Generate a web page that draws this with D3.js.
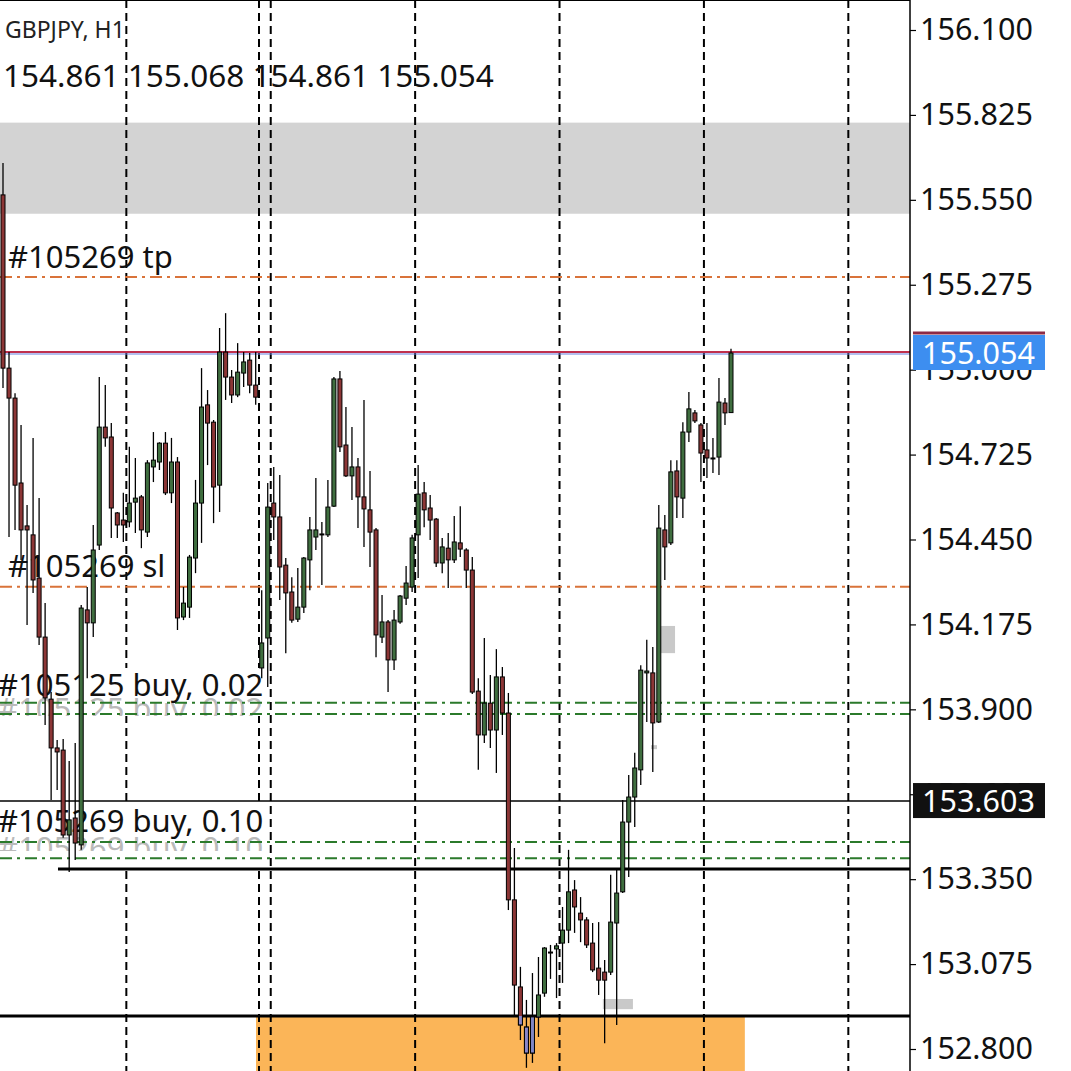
<!DOCTYPE html>
<html>
<head>
<meta charset="utf-8">
<script src="https://cdn.jsdelivr.net/npm/d3@7"></script>
<style>
  body { margin: 0; background: #fff; }
  svg { display: block; }
  text { font-family: "Noto Sans", sans-serif; }
</style>
</head>
<body>
<div id="chart"></div>
<script>
/* ---------- data (GBPJPY H1) ---------- */
const opens = [155.566,155.005,154.908,154.633,154.494,154.465,154.325,154.134,153.933,153.775,
  153.768,153.493,153.548,153.461,154.222,154.180,154.432,154.814,154.782,154.536,
  154.513,154.507,154.571,154.588,154.474,154.685,154.701,154.762,154.601,154.701,
  154.199,154.231,154.390,154.568,154.886,154.830,154.626,155.057,154.976,154.918,
  154.989,155.031,154.950,154.034,154.131,154.568,154.523,154.367,154.280,154.192,
  154.231,154.384,154.458,154.468,154.465,154.558,154.970,154.756,154.656,154.685,
  154.588,154.546,154.481,154.134,154.183,154.060,154.183,154.260,154.296,154.465,
  154.601,154.552,154.516,154.374,154.422,154.384,154.439,154.416,154.351,153.959,
  153.817,153.920,153.833,154.005,153.888,153.283,153.001,152.871,152.787,152.904,
  152.981,153.111,153.124,153.143,153.185,153.315,153.240,153.218,153.143,153.062,
  153.049,153.049,153.208,153.309,153.535,153.616,153.704,154.018,154.018,153.859,
  154.481,154.439,154.672,154.584,154.798,154.860,154.821,154.740,154.714,154.717,
  154.892,154.861];
const highs = [155.669,155.057,154.924,154.821,154.562,154.779,154.584,154.244,153.956,153.801,
  153.804,153.733,153.791,154.238,154.296,154.497,154.976,154.950,154.827,154.539,
  154.601,154.750,154.714,154.594,154.707,154.798,154.765,154.798,154.779,154.717,
  154.296,154.400,154.643,155.005,154.934,154.837,155.135,155.183,154.999,155.086,
  155.057,155.054,155.057,154.286,154.633,154.685,154.659,154.390,154.328,154.358,
  154.393,154.523,154.649,154.507,154.643,154.976,154.996,154.879,154.814,154.714,
  154.902,154.672,154.487,154.270,154.189,154.222,154.270,154.364,154.465,154.691,
  154.636,154.594,154.520,154.455,154.471,154.526,154.558,154.422,154.393,154.001,
  154.131,154.011,154.095,154.037,153.953,153.451,153.066,152.959,153.046,153.098,
  153.130,153.137,153.143,153.260,153.445,153.347,153.292,153.227,153.208,153.211,
  153.088,153.364,153.380,153.606,153.687,153.759,154.043,154.125,154.102,154.562,
  154.529,154.707,154.707,154.830,154.928,154.869,154.827,154.827,154.779,154.973,
  154.908,155.068];
const lows = [154.941,154.458,154.481,154.384,154.173,154.277,154.108,153.849,153.606,153.639,
  153.484,153.373,153.412,153.445,154.001,154.134,154.416,154.750,154.455,154.455,
  154.442,154.490,154.471,154.422,154.458,154.636,154.675,154.594,154.568,154.157,
  154.189,154.196,154.341,154.439,154.691,154.503,154.539,154.902,154.892,154.911,
  154.944,154.924,154.886,154.001,153.972,154.448,154.254,154.082,154.180,154.183,
  154.212,154.286,154.416,154.303,154.458,154.555,154.733,154.652,154.578,154.487,
  154.426,154.361,154.069,154.115,153.956,154.027,154.177,154.238,154.280,154.325,
  154.490,154.448,154.361,154.341,154.293,154.374,154.393,154.293,153.950,153.704,
  153.791,153.775,153.694,153.817,153.250,152.904,152.829,152.739,152.755,152.839,
  152.969,153.027,152.965,153.014,153.143,153.176,153.146,153.127,153.049,152.975,
  152.819,153.040,152.878,153.305,153.357,153.519,153.655,153.859,153.697,153.856,
  154.319,154.432,154.520,154.520,154.766,154.827,154.636,154.649,154.665,154.659,
  154.821,154.861];
const closes = [155.005,154.908,154.626,154.481,154.481,154.319,154.134,153.937,153.775,153.762,
  153.493,153.542,153.467,154.228,154.180,154.416,154.814,154.779,154.552,154.497,
  154.497,154.568,154.584,154.481,154.698,154.707,154.762,154.601,154.701,154.196,
  154.244,154.393,154.568,154.879,154.827,154.620,155.057,154.976,154.918,154.992,
  155.025,154.950,154.911,154.115,154.555,154.523,154.361,154.277,154.189,154.231,
  154.390,154.481,154.481,154.465,154.555,154.970,154.750,154.656,154.685,154.588,
  154.549,154.474,154.141,154.183,154.060,154.189,154.267,154.309,154.455,154.597,
  154.546,154.513,154.374,154.426,154.384,154.442,154.419,154.351,153.956,153.817,
  153.920,153.833,154.005,153.888,153.283,153.007,152.878,152.787,152.904,152.975,
  153.127,153.114,153.134,153.185,153.309,153.260,153.218,153.137,153.056,153.023,
  153.023,153.211,153.305,153.535,153.616,153.710,154.027,154.024,153.856,154.487,
  154.426,154.669,154.588,154.798,154.873,154.834,154.730,154.714,154.712,154.895,
  154.860,155.054];

const tickValues = [152.8, 153.075, 153.35, 153.625, 153.9, 154.175, 154.45, 154.725, 155.0, 155.275, 155.55, 155.825, 156.1];

// day separators (bar index) and one extra vertical line
const separators = [20.5, 44.5, 68.5, 92.5, 116.5, 140.5, 42.55];

// price levels of the objects on the chart
const lastPrice = 155.054;
const markPrice = 153.603;
const tpLevel = 155.300;
const slLevel = 154.297;
const buy1Levels = [153.921, 153.885];
const buy2Levels = [153.470, 153.418];
const supportLevel = 153.383;
const floorLevel = 152.907;
const greyZone = [155.505, 155.800];
const orangeZone = {from: 42.05, to: 123.3, top: 152.907};
const smallBoxes = [
  {x0: 108.9, x1: 111.7, p0: 154.082, p1: 154.170},
  {x0: 99.7, x1: 104.7, p0: 152.929, p1: 152.962},
  {x0: 107.7, x1: 108.7, p0: 153.771, p1: 153.784}
];

/* ---------- layout ---------- */
const W = 1071, H = 1071;
const plotRight = 910;

const candles = opens.map((o, i) => ({i, o, h: highs[i], l: lows[i], c: closes[i]}));

const x = d3.scaleLinear().domain([0, 121]).range([3, 731]);
const y = d3.scaleLinear().domain([152.8, 156.1]).range([1049, 30]);

const svg = d3.select('#chart').append('svg')
  .attr('width', W).attr('height', H);

svg.append('rect').attr('width', W).attr('height', H).attr('fill', '#fff');

const defs = svg.append('defs');
defs.append('clipPath').attr('id', 'plot')
  .append('rect').attr('x', 0).attr('y', 0).attr('width', plotRight).attr('height', H);
defs.append('clipPath').attr('id', 'orange')
  .append('rect').attr('x', x(orangeZone.from)).attr('y', y(orangeZone.top))
  .attr('width', x(orangeZone.to) - x(orangeZone.from)).attr('height', H);
defs.append('clipPath').attr('id', 'ghost1')
  .append('rect').attr('x', 0).attr('y', 698).attr('width', 270).attr('height', 18);
defs.append('clipPath').attr('id', 'ghost2')
  .append('rect').attr('x', 0).attr('y', 837).attr('width', 270).attr('height', 14);

const plot = svg.append('g').attr('clip-path', 'url(#plot)');

// zones
plot.append('rect')
  .attr('x', 0).attr('width', plotRight)
  .attr('y', y(greyZone[1])).attr('height', y(greyZone[0]) - y(greyZone[1]))
  .attr('fill', '#d3d3d3');

plot.append('rect')
  .attr('x', x(orangeZone.from)).attr('width', x(orangeZone.to) - x(orangeZone.from))
  .attr('y', y(orangeZone.top)).attr('height', H)
  .attr('fill', '#fbb558');

plot.selectAll('.box').data(smallBoxes).enter().append('rect')
  .attr('x', d => x(d.x0)).attr('width', d => x(d.x1) - x(d.x0))
  .attr('y', d => y(d.p1)).attr('height', d => y(d.p0) - y(d.p1))
  .attr('fill', '#c9c9c9');

// period separators
plot.selectAll('.sep').data(separators).enter().append('line')
  .attr('x1', d => x(d)).attr('x2', d => x(d))
  .attr('y1', 0).attr('y2', H)
  .attr('stroke', '#000').attr('stroke-width', 2)
  .attr('stroke-dasharray', '8,5');

// label backgrounds of the buy orders
plot.append('rect').attr('x', 0).attr('y', 668).attr('width', 263).attr('height', 48).attr('fill', '#fff');
plot.append('rect').attr('x', 0).attr('y', 803).attr('width', 263).attr('height', 64).attr('fill', '#fff');

// ghost copies of the order labels
plot.append('text').attr('x', -2).attr('y', 720).attr('font-size', 31)
  .attr('fill', '#555').attr('opacity', 0.4).attr('clip-path', 'url(#ghost1)')
  .text('#105125 buy, 0.02');
plot.append('text').attr('x', -2).attr('y', 859).attr('font-size', 31)
  .attr('fill', '#555').attr('opacity', 0.4).attr('clip-path', 'url(#ghost2)')
  .text('#105269 buy, 0.10');

// horizontal levels
function hline(price, color, width, dash, x0) {
  plot.append('line')
    .attr('x1', x0 === undefined ? 0 : x0).attr('x2', plotRight)
    .attr('y1', y(price)).attr('y2', y(price))
    .attr('stroke', color).attr('stroke-width', width)
    .attr('stroke-dasharray', dash || null);
}
const dashDot = '12,5,3,5';
hline(tpLevel, '#d9733a', 2, dashDot);
hline(slLevel, '#d9733a', 2, dashDot);
buy1Levels.forEach(p => hline(p, '#2b7a2b', 2, dashDot));
buy2Levels.forEach(p => hline(p, '#2b7a2b', 2, dashDot));
hline(markPrice, '#000', 1.5);
hline(supportLevel, '#000', 3, null, x(9.14));
hline(floorLevel, '#000', 3);

// top border
plot.append('line').attr('x1', 0).attr('x2', plotRight).attr('y1', 0.5).attr('y2', 0.5)
  .attr('stroke', '#000').attr('stroke-width', 1);

// last price line (ask red, bid blue)
plot.append('line').attr('x1', 0).attr('x2', plotRight)
  .attr('y1', y(lastPrice) - 1).attr('y2', y(lastPrice) - 1)
  .attr('stroke', '#c0304d').attr('stroke-width', 2);
plot.append('line').attr('x1', 0).attr('x2', plotRight)
  .attr('y1', y(lastPrice) + 1).attr('y2', y(lastPrice) + 1)
  .attr('stroke', '#6b80e0').attr('stroke-width', 1.2);

// object texts
const labels = [
  {t: '#105269 tp', x: 8, y: 268},
  {t: '#105269 sl', x: 8, y: 577},
  {t: '#105125 buy, 0.02', x: -2, y: 696},
  {t: '#105269 buy, 0.10', x: -2, y: 832}
];
plot.selectAll('.lbl').data(labels).enter().append('text')
  .attr('x', d => d.x).attr('y', d => d.y)
  .attr('font-size', 31).attr('fill', '#111')
  .text(d => d.t);

// candles
const bw = 4;
const cg = plot.append('g');
cg.selectAll('.wick').data(candles).enter().append('line')
  .attr('x1', d => x(d.i)).attr('x2', d => x(d.i))
  .attr('y1', d => y(d.h)).attr('y2', d => y(d.l))
  .attr('stroke', '#000').attr('stroke-width', 1.3);

function bodies(g, fillFn) {
  g.selectAll('.body').data(candles).enter().append('rect')
    .attr('x', d => x(d.i) - bw / 2)
    .attr('width', bw)
    .attr('y', d => y(Math.max(d.o, d.c)))
    .attr('height', d => Math.max(1, Math.abs(y(d.o) - y(d.c))))
    .attr('fill', fillFn)
    .attr('stroke', '#000').attr('stroke-width', 1);
}
bodies(cg, d => d.c >= d.o ? '#3f6e3f' : '#8c3636');
// inside the orange zone the bodies show inverted (bluish)
bodies(cg.append('g').attr('clip-path', 'url(#orange)'), d => d.c >= d.o ? '#7f86c4' : '#8a86c8');

/* ---------- header ---------- */
svg.append('text').attr('x', 5).attr('y', 38).attr('font-size', 23).attr('fill', '#222')
  .text('GBPJPY, H1');
const last = candles[candles.length - 1];
svg.append('text').attr('x', 3).attr('y', 87).attr('font-size', 31.5).attr('fill', '#111')
  .text([last.o, last.h, last.l, last.c].map(d3.format('.3f')).join(' '));

/* ---------- price axis ---------- */
const axis = svg.append('g').attr('transform', `translate(${plotRight},0)`)
  .call(d3.axisRight(y).tickValues(tickValues).tickFormat(d3.format('.3f')).tickSize(6).tickPadding(4));
axis.select('.domain').remove();
axis.selectAll('.tick line').attr('stroke', '#000').attr('stroke-width', 1.2);
axis.selectAll('.tick text')
  .attr('font-family', '"Noto Sans", sans-serif')
  .attr('font-size', 30.5).attr('fill', '#111');

svg.append('line').attr('x1', plotRight).attr('x2', plotRight).attr('y1', 0).attr('y2', H)
  .attr('stroke', '#000').attr('stroke-width', 1.5);

// price labels
function priceLabel(price, bg, top) {
  const g = svg.append('g');
  const cy = y(price);
  if (top) {
    g.append('line').attr('x1', 913).attr('x2', 1045).attr('y1', cy - 20).attr('y2', cy - 20)
      .attr('stroke', top).attr('stroke-width', 3);
  }
  g.append('rect').attr('x', 913).attr('y', cy - 18).attr('width', 132).attr('height', 35)
    .attr('fill', bg);
  g.append('text').attr('x', 922).attr('y', cy).attr('dy', '0.35em')
    .attr('font-size', 30.5).attr('fill', '#fff')
    .text(d3.format('.3f')(price));
}
priceLabel(lastPrice, '#3d8ef0', '#8e2a45');
priceLabel(markPrice, '#111');
</script>
</body>
</html>
